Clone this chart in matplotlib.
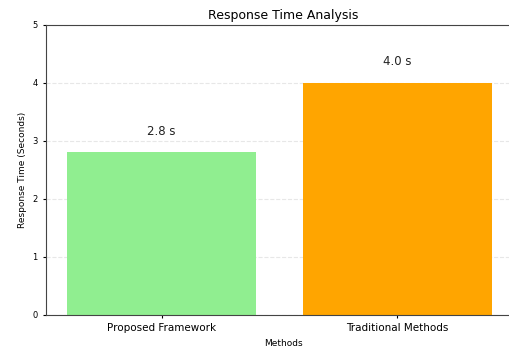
import matplotlib
matplotlib.use("Agg")
import matplotlib.pyplot as plt

# ----------------------------
# Data
# ----------------------------
METHODS = ["Proposed Framework", "Traditional Methods"]
RESPONSE_TIMES = [2.8, 4.0]
VALUE_LABELS = ["2.8 s", "4.0 s"]
COLORS = ["lightgreen", "orange"]


def main() -> None:
    fig = plt.figure(figsize=(5.10, 3.51), dpi=100)
    ax = fig.add_axes([0.090, 0.103, 0.93, 0.826])

    x = list(range(len(METHODS)))
    bars = ax.bar(x, RESPONSE_TIMES, color=COLORS, width=0.8)

    for b, lab in zip(bars, VALUE_LABELS):
        ax.text(b.get_x() + b.get_width() / 2, b.get_height() + 0.25, lab,
                ha="center", va="bottom", fontsize=8.5, color="#222222")

    ax.set_xticks(x)
    ax.set_xticklabels(METHODS, fontsize=7.5)
    ax.tick_params(axis="y", labelsize=6, length=2.5)
    ax.tick_params(axis="x", length=2.5)
    ax.set_ylim(0, 5)
    # axes run slightly past the right edge of the canvas, as in the source
    ax.set_xlim(-0.49, 1.52)
    ax.set_title("Response Time Analysis", fontsize=9, pad=4)
    ax.set_xlabel("Methods", fontsize=6.5)
    ax.set_ylabel("Response Time (Seconds)", fontsize=6.5)
    ax.grid(axis="y", linestyle="--", alpha=0.3)
    ax.set_axisbelow(True)
    for s in ax.spines.values():
        s.set_color("#444444")
    ax.spines["right"].set_visible(False)

    fig.savefig("out.png", dpi=100)


if __name__ == "__main__":
    main()
